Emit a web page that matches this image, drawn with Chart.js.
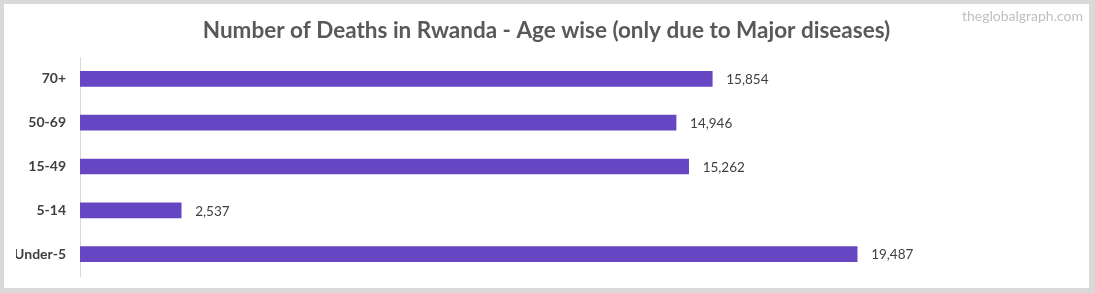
<!DOCTYPE html>
<html>
<head>
<meta charset="utf-8">
<script src="https://cdn.jsdelivr.net/npm/chart.js@4/dist/chart.umd.min.js"></script>
<style>
  html, body { margin: 0; padding: 0; background: #d9d9d9; width: 1095px; height: 293px; overflow: hidden; }
  #wrap { position: absolute; left: 4px; top: 4px; width: 1085px; height: 284px; background: #ffffff; }
</style>
</head>
<body>
<div id="wrap"><canvas id="c" width="1085" height="284"></canvas></div>
<script>
const categories = ["70+", "50-69", "15-49", "5-14", "Under-5"];
const deaths = [15854, 14946, 15262, 2537, 19487];
const chartTitle = "Number of Deaths in Rwanda - Age wise (only due to Major diseases)";
const watermark = "theglobalgraph.com";

const FONT = "Lato, 'Open Sans', sans-serif";

const valueLabels = {
  id: 'valueLabels',
  afterDatasetsDraw(chart) {
    const ctx = chart.ctx;
    const meta = chart.getDatasetMeta(0);
    ctx.save();
    ctx.font = "13.5px " + FONT;
    ctx.fillStyle = "#404040";
    ctx.textAlign = "left";
    ctx.textBaseline = "middle";
    meta.data.forEach((bar, i) => {
      ctx.fillText(deaths[i].toLocaleString('en-US'), bar.x + 14, bar.y + 1);
    });
    ctx.restore();
  }
};

const watermarkPlugin = {
  id: 'watermark',
  afterDraw(chart) {
    const ctx = chart.ctx;
    ctx.save();
    ctx.font = "14px " + FONT;
    ctx.fillStyle = "#bfbfbf";
    ctx.textAlign = "right";
    ctx.textBaseline = "middle";
    ctx.fillText(watermark, 1079, 12);
    ctx.restore();
  }
};

new Chart(document.getElementById('c'), {
  type: 'bar',
  data: {
    labels: categories,
    datasets: [{
      data: deaths,
      backgroundColor: '#6746C3',
      borderWidth: 0,
      barThickness: 15
    }]
  },
  options: {
    indexAxis: 'y',
    responsive: false,
    animation: false,
    layout: { padding: { left: 12, right: 12, top: 0, bottom: 12 } },
    plugins: {
      legend: { display: false },
      tooltip: { enabled: false },
      title: {
        display: true,
        text: chartTitle,
        color: '#595959',
        font: { family: FONT, size: 22.5, weight: 'bold' },
        lineHeight: 1.2,
        padding: { top: 13, bottom: 13 }
      }
    },
    scales: {
      x: {
        display: false,
        min: 0,
        max: 25000
      },
      y: {
        offset: true,
        grid: { display: false, drawTicks: false },
        border: { display: true, color: '#d9d9d9', width: 1 },
        ticks: {
          color: '#404040',
          padding: 14,
          font: { family: FONT, size: 14, weight: 'bold' }
        },
        afterFit(scale) {
          scale.width = 64;
          scale.paddingTop = 0;
          scale.paddingBottom = 0;
        }
      }
    }
  },
  plugins: [valueLabels, watermarkPlugin]
});
</script>
</body>
</html>
